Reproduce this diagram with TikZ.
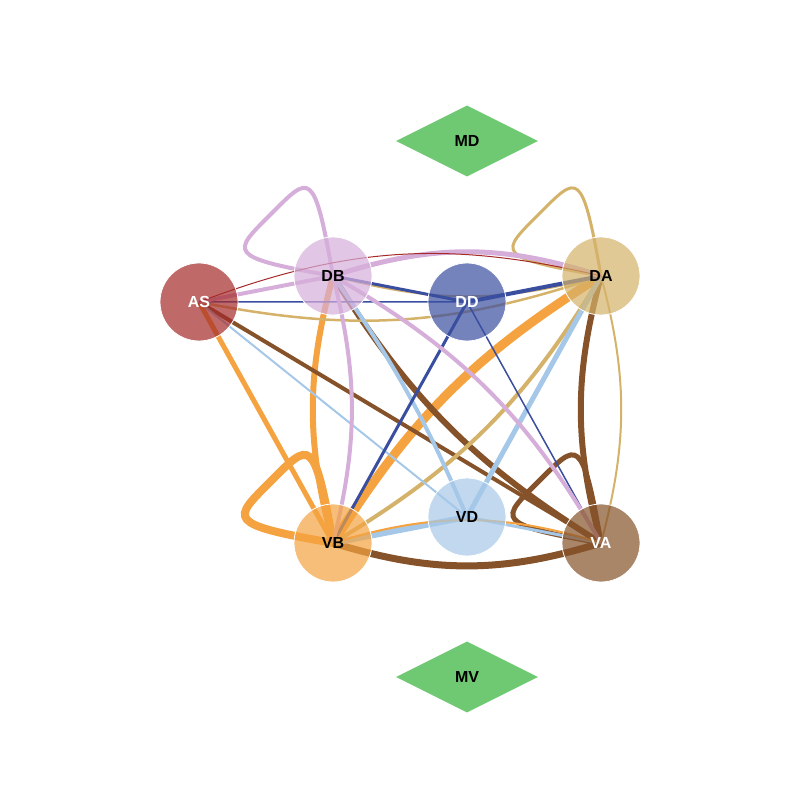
\documentclass[tikz,border=0pt]{standalone}
\usepackage{fontspec}
\setmainfont{Liberation Sans}
\usetikzlibrary{shapes.geometric,backgrounds}

\definecolor{cAS}{RGB}{165,42,42}
\definecolor{cDB}{RGB}{214,174,218}
\definecolor{cDD}{RGB}{58,78,160}
\definecolor{cDA}{RGB}{212,178,106}
\definecolor{cVB}{RGB}{244,163,64}
\definecolor{cVD}{RGB}{166,200,232}
\definecolor{cVA}{RGB}{134,82,42}
\definecolor{cMeta}{RGB}{111,201,115}

\begin{document}
\begin{tikzpicture}[x=1pt,y=1pt,
    vert/.style={circle,draw=white,line width=0.8pt,minimum size=78pt,inner sep=0pt,
        fill opacity=0.7,text opacity=1,font=\fontsize{16}{19}\selectfont\bfseries},
    meta/.style={diamond,aspect=2,fill=cMeta,minimum width=142pt,minimum height=71pt,
        inner sep=0pt,font=\fontsize{16}{19}\selectfont\bfseries},
    arced/.style={bend left=15}]
    \useasboundingbox (0,0) rectangle (800,800);

    \node (AS) at (199,498) [vert,fill=cAS,text=white] {AS};
    \node (DB) at (333,524) [vert,fill=cDB] {DB};
    \node (DD) at (467,498) [vert,fill=cDD,text=white] {DD};
    \node (DA) at (601,524) [vert,fill=cDA] {DA};
    \node (VB) at (333,257) [vert,fill=cVB] {VB};
    \node (VD) at (467,283) [vert,fill=cVD] {VD};
    \node (VA) at (601,257) [vert,fill=cVA,text=white] {VA};

    \node (MD) at (467,659) [meta] {MD};
    \node (MV) at (467,123) [meta] {MV};

    \begin{scope}[on background layer]
        % VB
        \draw[cVB,line width=8pt] (VB.center) .. controls +(100:110) and +(45:55) .. ++(-62,62)
            .. controls +(225:55) and +(170:110) .. (VB.center);
        \draw[cVB,line width=5pt] (VB.center) -- (AS.center);
        \draw[cVB,line width=6pt] (VB.center) to[arced] (DB.center);
        \draw[cVB,line width=9pt] (VB.center) to[bend left=13] (DA.center);
        % VA
        \draw[cVA,line width=5pt] (VA.center) .. controls +(100:110) and +(45:55) .. ++(-62,62)
            .. controls +(225:55) and +(170:110) .. (VA.center);
        \draw[cVA,line width=4pt] (VA.center) -- (AS.center);
        \draw[cVA,line width=6pt] (VA.center) to[bend left=13] (DB.center)
            (VA.center) to[arced] (DA.center);
        \draw[cVA,line width=7pt] (VA.center) to[bend left=17] (VB.center);
        % DA
        \draw[cDA,line width=3pt] (DA.center) .. controls +(100:110) and +(45:55) .. ++(-62,62)
            .. controls +(225:55) and +(170:110) .. (DA.center);
        \draw[cDA,line width=2.5pt] (DA.center) to[arced] (AS.center);
        \draw[cDA,line width=2pt] (DA.center) to[arced] (DB.center)
            (DA.center) to[arced] (VA.center);
        \draw[cDA,line width=4pt] (DA.center) to[bend left=14] (VB.center);
        % VD
        \draw[cVD,line width=2pt] (VD.center) -- (AS.center);
        \draw[cVD,line width=4pt] (VD.center) to[bend right=6] (DB.center);
        \draw[cVD,line width=5pt] (VD.center) -- (DA.center);
        \draw[cVD,line width=6pt] (VD.center) -- (VB.center);
        \draw[cVD,line width=3pt] (VD.center) -- (VA.center);
        \draw[cVB,line width=2pt] (VB.center) to[bend left=17] (VA.center);
        % DD
        \draw[cDD,line width=1.5pt] (DD.center) -- (AS.center) (DD.center) -- (VA.center);
        \draw[cDD,line width=3pt] (DD.center) -- (DB.center) (DD.center) -- (VB.center);
        \draw[cDD,line width=4pt] (DD.center) -- (DA.center);
        % DB
        \draw[cDB,line width=4pt] (DB.center) .. controls +(100:110) and +(45:55) .. ++(-62,62)
            .. controls +(225:55) and +(170:110) .. (DB.center);
        \draw[cDB,line width=4pt] (DB.center) -- (AS.center)
            (DB.center) to[bend left=14] (VB.center)
            (DB.center) to[arced] (VA.center);
        \draw[cDB,line width=5pt] (DB.center) to[bend left=18] (DA.center);
        % AS
        \draw[cAS,line width=1pt] (AS.center) to[bend left=17] (DA.center);
    \end{scope}
\end{tikzpicture}
\end{document}
